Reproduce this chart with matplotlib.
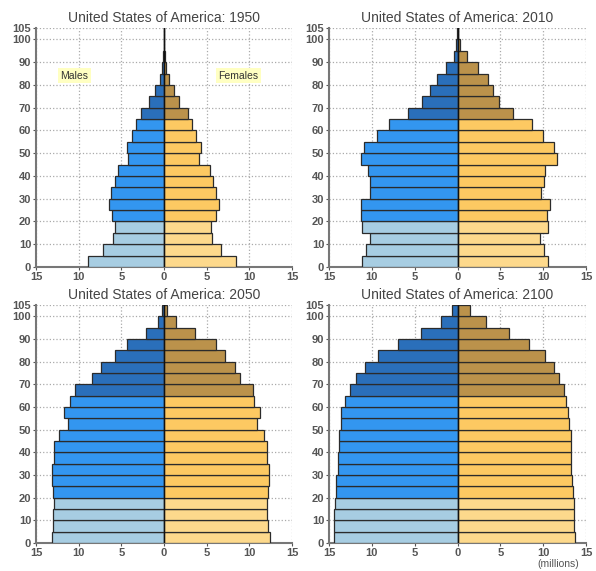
import numpy as np
import matplotlib
matplotlib.use('Agg')
import matplotlib.pyplot as plt

plt.rcParams['font.family'] = ['Liberation Sans', 'DejaVu Sans']

# age groups 0-4 ... 100+, lower bound of each 5-year band
age_lo = list(range(0, 105, 5))

years = [1950, 2010, 2050, 2100]

# population in millions, by age group (youngest first)
males_1950 = [8.9, 7.15, 6.0, 5.7, 6.1, 6.45, 6.2, 5.8, 5.35, 4.2, 4.35, 3.8, 3.3,
              2.65, 1.75, 1.05, 0.5, 0.27, 0.1, 0.05, 0.02]
females_1950 = [8.4, 6.7, 5.6, 5.5, 6.1, 6.5, 6.05, 5.75, 5.4, 4.1, 4.35, 3.7, 3.3,
                2.85, 1.75, 1.15, 0.6, 0.2, 0.1, 0.05, 0.02]
males_2010 = [11.2, 10.7, 10.2, 11.2, 11.25, 11.3, 10.25, 10.25, 10.4, 11.3, 10.9, 9.45, 7.95,
              5.75, 4.15, 3.2, 2.35, 1.35, 0.45, 0.15, 0.03]
females_2010 = [10.55, 10.15, 9.6, 10.55, 10.45, 10.8, 9.75, 10.1, 10.25, 11.65, 11.25, 10.0, 8.65,
                6.5, 4.9, 4.15, 3.6, 2.4, 1.1, 0.3, 0.05]
males_2050 = [13.15, 13.0, 12.95, 12.9, 12.95, 13.1, 13.1, 12.9, 12.9, 12.3, 11.25, 11.75, 11.05,
              10.45, 8.4, 7.4, 5.8, 4.35, 2.15, 0.65, 0.2]
females_2050 = [12.45, 12.15, 12.05, 12.05, 12.15, 12.3, 12.3, 12.05, 12.05, 11.7, 10.85, 11.2, 10.6,
                10.45, 8.9, 8.3, 7.1, 6.05, 3.6, 1.35, 0.3]
males_2100 = [14.45, 14.4, 14.4, 14.35, 14.15, 14.15, 14.0, 13.9, 13.8, 13.8, 13.65, 13.55, 13.1,
              12.6, 11.9, 10.8, 9.3, 6.95, 4.3, 1.9, 0.6]
females_2100 = [13.7, 13.6, 13.6, 13.6, 13.5, 13.4, 13.3, 13.3, 13.2, 13.2, 13.05, 12.95, 12.65,
                12.4, 11.9, 11.25, 10.2, 8.35, 6.0, 3.35, 1.5]

males = [males_1950, males_2010, males_2050, males_2100]
females = [females_1950, females_2010, females_2050, females_2100]

# colours: young (<20), working (20-64), old (65+)
male_cols = ['#a7cde2', '#3396f0', '#2a6fba']
female_cols = ['#fdd98c', '#fdc962', '#bb924b']


def band(a):
    if a < 20:
        return 0
    if a < 65:
        return 1
    return 2


fig = plt.figure(figsize=(5.96, 5.71), dpi=100)
W, H = 596.0, 571.0
# axes boxes in pixels: left, top, right, bottom
boxes = [(36, 28, 292, 267), (329, 28, 586, 267),
         (36, 305, 292, 543), (329, 305, 586, 543)]

for i, yr in enumerate(years):
    l, t, r, b = boxes[i]
    ax = fig.add_axes([l / W, 1 - b / H, (r - l) / W, (b - t) / H])
    mc = [male_cols[band(a)] for a in age_lo]
    fc = [female_cols[band(a)] for a in age_lo]
    ax.barh(age_lo, [-v for v in males[i]], height=5, align='edge', color=mc,
            edgecolor='#2b2b2b', linewidth=0.9, zorder=3)
    ax.barh(age_lo, females[i], height=5, align='edge', color=fc,
            edgecolor='#2b2b2b', linewidth=0.9, zorder=3)
    ax.plot([0, 0], [0, 105], color='#111111', lw=1.0, zorder=4)

    ax.set_xlim(-15, 15)
    ax.set_ylim(0, 105)
    xt = [-15, -10, -5, 0, 5, 10, 15]
    ax.set_xticks(xt)
    ax.set_xticklabels([str(abs(v)) for v in xt])
    yt = [0, 10, 20, 30, 40, 50, 60, 70, 80, 90, 100, 105]
    ax.set_yticks(yt)
    ax.set_yticklabels([str(v) for v in yt])
    ax.tick_params(labelsize=8, colors='#555555', length=2, width=0.8, pad=1.5)
    for lab in ax.get_xticklabels() + ax.get_yticklabels():
        lab.set_fontweight('bold')
    ax.grid(True, linestyle=':', color='#aaaaaa', linewidth=0.9, zorder=0)
    for s in ['top', 'right']:
        ax.spines[s].set_visible(False)
    for s in ['left', 'bottom']:
        ax.spines[s].set_color('#777777')
        ax.spines[s].set_linewidth(1.5)
    ax.set_title('United States of America: %d' % yr, fontsize=10,
                 color='#444444', pad=4)

    if i == 0:
        box = dict(boxstyle='square,pad=0.25', fc='#ffffc2', ec='none')
        ax.text(-10.5, 84, 'Males', fontsize=7.5, color='#333333',
                ha='center', va='center', bbox=box, zorder=5)
        ax.text(8.7, 84, 'Females', fontsize=7.5, color='#333333',
                ha='center', va='center', bbox=box, zorder=5)
    if i == 3:
        ax.text(11.8, -7.0, '(millions)', fontsize=7.5, color='#555555',
                ha='center', va='top')

fig.savefig('out.png', dpi=100)
